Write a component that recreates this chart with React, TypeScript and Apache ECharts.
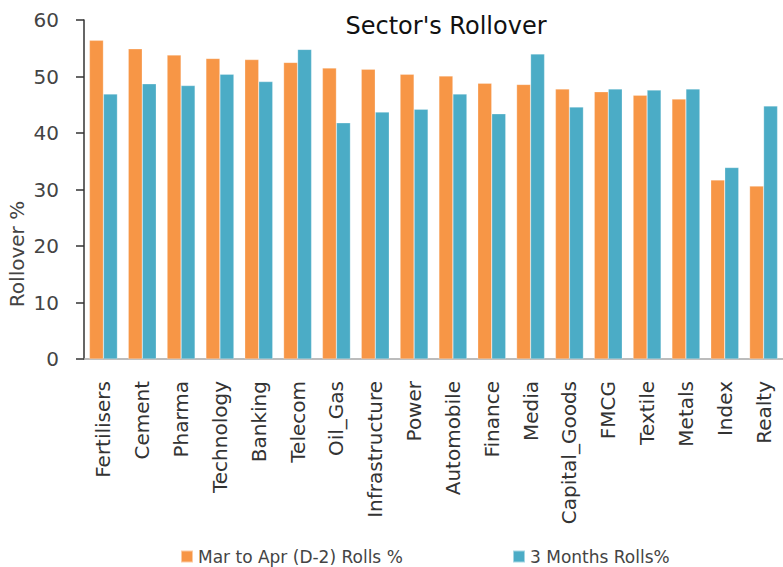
import React, { useEffect, useRef } from "react";
import * as echarts from "echarts";

const categories = [
  "Fertilisers", "Cement", "Pharma", "Technology", "Banking", "Telecom",
  "Oil_Gas", "Infrastructure", "Power", "Automobile", "Finance", "Media",
  "Capital_Goods", "FMCG", "Textile", "Metals", "Index", "Realty",
];
const marToApr = [
  56.4, 54.9, 53.8, 53.2, 53.0, 52.5, 51.5, 51.3, 50.4, 50.1, 48.8, 48.6,
  47.8, 47.3, 46.7, 46.0, 31.7, 30.6,
];
const threeMonths = [
  46.9, 48.7, 48.4, 50.4, 49.1, 54.8, 41.8, 43.7, 44.2, 46.9, 43.4, 54.0,
  44.6, 47.8, 47.6, 47.8, 33.9, 44.8,
];
const seriesNames = ["Mar to Apr (D-2) Rolls %", "3 Months Rolls%"];
const yTicks = { min: 0, max: 60, interval: 10 };

const FONT = "DejaVu Sans";

export default function App() {
  const ref = useRef<HTMLDivElement>(null);
  useEffect(() => {
    if (!ref.current) return;
    const chart = echarts.init(ref.current, undefined, { renderer: "svg" });
    chart.setOption({
      animation: false,
      backgroundColor: "#ffffff",
      textStyle: { fontFamily: FONT },
      title: {
        text: "Sector's Rollover",
        left: 446,
        top: 14,
        padding: 0,
        textAlign: "center",
        textStyle: { fontFamily: FONT, fontSize: 24, fontWeight: "normal", color: "#111" },
      },
      legend: [
        {
          data: [seriesNames[0]],
          left: 180,
          top: 548,
          padding: 0,
          itemWidth: 12,
          itemHeight: 12,
          itemGap: 5,
          icon: "rect",
          textStyle: { fontFamily: FONT, fontSize: 17, color: "#444", padding: [0, 0, 0, 0] },
        },
        {
          data: [seriesNames[1]],
          left: 512,
          top: 548,
          padding: 0,
          itemWidth: 12,
          itemHeight: 12,
          itemGap: 5,
          icon: "rect",
          textStyle: { fontFamily: FONT, fontSize: 17, color: "#444" },
        },
      ],
      grid: { left: 84, top: 20, bottom: 208, right: -5, containLabel: false },
      xAxis: {
        type: "category",
        data: categories,
        axisLine: { lineStyle: { color: "#A6A6A6", width: 1.5 } },
        axisTick: { show: false },
        axisLabel: {
          rotate: 90,
          interval: 0,
          margin: 22,
          fontFamily: FONT,
          fontSize: 20,
          color: "#333",
        },
      },
      yAxis: {
        type: "value",
        min: yTicks.min,
        max: yTicks.max,
        interval: yTicks.interval,
        splitLine: { show: false },
        axisLine: { show: true, lineStyle: { color: "#333", width: 1.5 } },
        axisTick: { show: true, length: 8, lineStyle: { color: "#333", width: 1.5 } },
        axisLabel: { margin: 25, fontFamily: FONT, fontSize: 20, color: "#444" },
      },
      graphic: [
        {
          type: "text",
          x: 17,
          y: 254,
          rotation: Math.PI / 2,
          style: {
            text: "Rollover %",
            fontFamily: FONT,
            fontSize: 20,
            fill: "#444",
            textAlign: "center",
            textVerticalAlign: "middle",
          },
        },
      ],
      series: [
        {
          name: seriesNames[0],
          type: "bar",
          data: marToApr,
          barWidth: 14,
          barGap: "0%",
          itemStyle: { color: "#F79646", borderColor: "rgba(255,255,255,0.5)", borderWidth: 0.5 },
        },
        {
          name: seriesNames[1],
          type: "bar",
          data: threeMonths,
          barWidth: 14,
          barGap: "0%",
          itemStyle: { color: "#4BACC6", borderColor: "rgba(255,255,255,0.5)", borderWidth: 0.5 },
        },
      ],
    });
    return () => chart.dispose();
  }, []);
  return (
    <div
      ref={ref}
      style={{ position: "fixed", left: 0, top: 0, width: 783, height: 567 }}
    />
  );
}
